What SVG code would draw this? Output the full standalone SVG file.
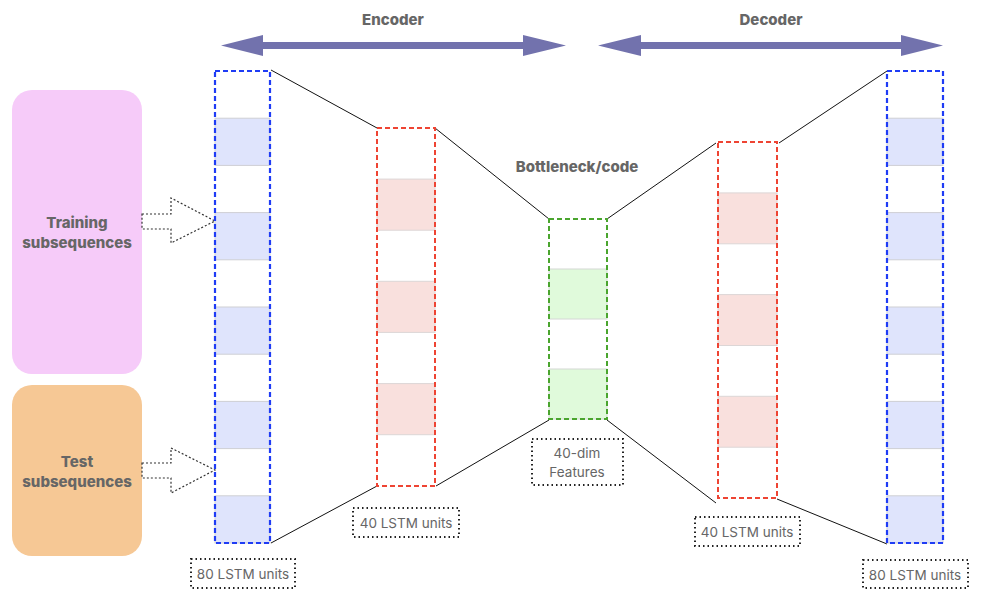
<svg xmlns="http://www.w3.org/2000/svg" width="983" height="612" viewBox="0 0 983 612">
<defs>
<style>
.title{font-family:Inter,"Liberation Sans",sans-serif;font-weight:800;font-size:15px;fill:#666;text-anchor:middle}
.lbl{font-family:Inter,"Liberation Sans",sans-serif;font-size:13.5px;fill:#666;text-anchor:middle}
.conn{stroke:#111;stroke-width:1;fill:none}
.lblbox{fill:#fff;stroke:#222;stroke-width:2;stroke-dasharray:1.5 3}
.hollow{fill:#fff;stroke:#333;stroke-width:1.2;stroke-dasharray:2 2}
.cellB{fill:#dfe4fc;stroke:#cfcfd4;stroke-width:1}
.cellR{fill:#f9e0dd;stroke:#dcd6d6;stroke-width:1}
.cellG{fill:#e0fadb;stroke:#d4d8d4;stroke-width:1}
.colB{fill:none;stroke:#1f3cf5;stroke-width:2.2;stroke-dasharray:5 3}
.colR{fill:none;stroke:#ee4433;stroke-width:2;stroke-dasharray:5 3}
.colG{fill:none;stroke:#4aa52e;stroke-width:2;stroke-dasharray:5 3}
.bigarrow{fill:#7272ad}
</style>
</defs>
<rect width="983" height="612" fill="#fff"/>

<g id="encoder-arrow">
<polygon class="bigarrow" points="221,45.5 263,35 263,42 523,42 523,35 566,45.5 523,56 523,49 263,49 263,56"/>
<text class="title" x="393" y="25">Encoder</text>
</g>
<g id="decoder-arrow">
<polygon class="bigarrow" points="598,45.5 641,35 641,42 901,42 901,35 943,45.5 901,56 901,49 641,49 641,56"/>
<text class="title" x="771" y="25">Decoder</text>
</g>

<g id="connectors">
<line class="conn" x1="271" y1="70" x2="377" y2="128"/>
<line class="conn" x1="271" y1="543" x2="377" y2="486"/>
<line class="conn" x1="435" y1="128" x2="549" y2="219"/>
<line class="conn" x1="436" y1="486" x2="549" y2="420"/>
<line class="conn" x1="607" y1="219" x2="716" y2="143"/>
<line class="conn" x1="607" y1="420" x2="716" y2="503"/>
<line class="conn" x1="779" y1="143" x2="887" y2="71"/>
<line class="conn" x1="777" y1="499" x2="887" y2="544"/>
</g>

<g id="training">
<rect x="12" y="90" width="130" height="284" rx="20" fill="#f6cbf9"/>
<text class="title" x="77" y="228">Training</text>
<text class="title" x="77" y="248">subsequences</text>
<polygon class="hollow" points="142,214 171,214 171,198 215,221 171,243 171,229 142,229"/>
</g>

<g id="test">
<rect x="12" y="385" width="130" height="171" rx="20" fill="#f6c895"/>
<text class="title" x="77" y="467">Test</text>
<text class="title" x="77" y="487">subsequences</text>
<polygon class="hollow" points="142,463 171,463 171,448 215,470 171,493 171,478 142,478"/>
</g>

<g id="input-layer">
<rect class="cellB" x="215" y="118.2" width="55" height="47.2"/>
<rect class="cellB" x="215" y="212.6" width="55" height="47.2"/>
<rect class="cellB" x="215" y="307" width="55" height="47.2"/>
<rect class="cellB" x="215" y="401.4" width="55" height="47.2"/>
<rect class="cellB" x="215" y="495.8" width="55" height="47.2"/>
<rect class="colB" x="215" y="71" width="55" height="472"/>
</g>
<g id="input-label">
<rect class="lblbox" x="191" y="559" width="104" height="29"/>
<text class="lbl" x="243" y="579">80 LSTM units</text>
</g>

<g id="encoder-layer">
<rect class="cellR" x="377" y="179.1" width="58" height="51.1"/>
<rect class="cellR" x="377" y="281.3" width="58" height="51.1"/>
<rect class="cellR" x="377" y="383.6" width="58" height="51.1"/>
<rect class="colR" x="377" y="128" width="58" height="358"/>
</g>
<g id="encoder-label">
<rect class="lblbox" x="353" y="508" width="106" height="29"/>
<text class="lbl" x="406" y="528">40 LSTM units</text>
</g>

<g id="bottleneck">
<text class="title" x="577" y="172">Bottleneck/code</text>
<rect class="cellG" x="549" y="269" width="58" height="50"/>
<rect class="cellG" x="549" y="369" width="58" height="50"/>
<rect class="colG" x="549" y="219" width="58" height="200"/>
</g>
<g id="bottleneck-label">
<rect class="lblbox" x="532" y="439" width="91" height="46"/>
<text class="lbl" x="577" y="458">40-dim</text>
<text class="lbl" x="577" y="477">Features</text>
</g>

<g id="decoder-layer">
<rect class="cellR" x="718" y="192.9" width="59" height="50.9"/>
<rect class="cellR" x="718" y="294.6" width="59" height="50.9"/>
<rect class="cellR" x="718" y="396.3" width="59" height="50.9"/>
<rect class="colR" x="718" y="142" width="59" height="356"/>
</g>
<g id="decoder-label">
<rect class="lblbox" x="695" y="517" width="105" height="29"/>
<text class="lbl" x="747" y="537">40 LSTM units</text>
</g>

<g id="output-layer">
<rect class="cellB" x="887" y="118.2" width="56" height="47.2"/>
<rect class="cellB" x="887" y="212.6" width="56" height="47.2"/>
<rect class="cellB" x="887" y="307" width="56" height="47.2"/>
<rect class="cellB" x="887" y="401.4" width="56" height="47.2"/>
<rect class="cellB" x="887" y="495.8" width="56" height="47.2"/>
<rect class="colB" x="887" y="71" width="56" height="472"/>
</g>
<g id="output-label">
<rect class="lblbox" x="863" y="560" width="105" height="28"/>
<text class="lbl" x="915" y="580">80 LSTM units</text>
</g>
</svg>
